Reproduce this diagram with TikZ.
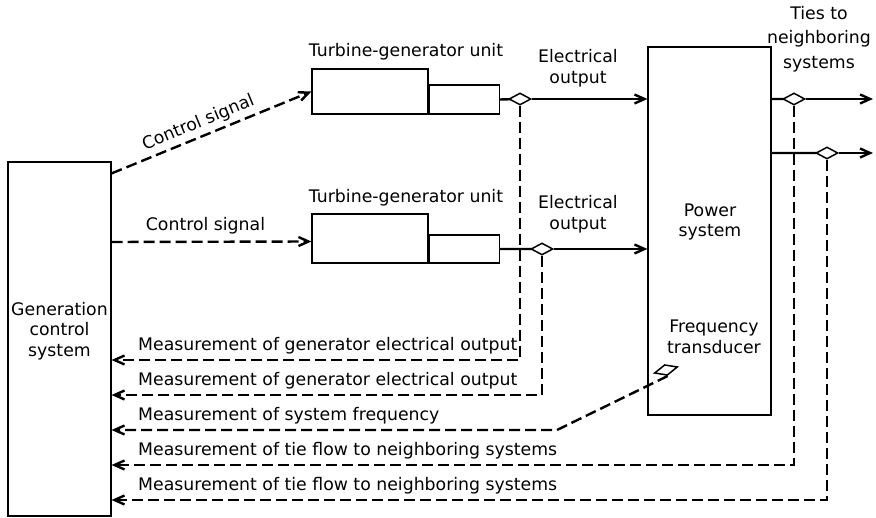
\documentclass[tikz,border=0pt]{standalone}
\usepackage{fontspec}
\setmainfont{DejaVu Sans}
\usetikzlibrary{arrows.meta,calc,positioning,shapes.geometric}

\begin{document}
\begin{tikzpicture}[x=1pt,y=-1pt,
  box/.style={draw,line width=1.2pt,inner sep=0pt},
  tap/.style={draw,diamond,line width=1.5pt,fill=white,inner sep=0pt,minimum width=22pt,minimum height=12pt},
  sig/.style={line width=2.4pt,dash pattern=on 11pt off 5pt,-{Straight Barb[length=10pt,width=9pt]}},
  pwr/.style={line width=2.4pt,-{Straight Barb[length=10pt,width=9pt]}},
  lbl/.style={font=\fontsize{17.3}{20.5}\selectfont,align=center,inner sep=0pt}]
  \useasboundingbox (0,0) rectangle (876,518);
  \node[box,minimum width=103pt,minimum height=354pt] (gcs) at (59.5,339) {};
  \node[lbl] (gcslbl) at (59.5,331) {Generation\\control\\system};
  \node[box,minimum width=116pt,minimum height=45pt] (tg1) at (370,91.5) {};
  \node[box,minimum width=70pt,minimum height=29pt,anchor=south west] (gen1) at (tg1.south east) {};
  \node[box,minimum width=116pt,minimum height=49pt] (tg2) at (370,238.5) {};
  \node[box,minimum width=70pt,minimum height=28pt,anchor=south west] (gen2) at (tg2.south east) {};
  \node[lbl] (tg1lbl) at (406,52) {Turbine-generator unit};
  \node[lbl] (tg2lbl) at (406,198) {Turbine-generator unit};
  \node[box,minimum width=123pt,minimum height=368pt] (ps) at (709.5,231) {};
  \node[lbl] (pslbl) at (710,222) {Power\\system};
  \node[lbl] (ftlbl) at (714,337) {Frequency\\transducer};
  \node[lbl] (eo1) at (578,68) {Electrical\\output};
  \node[lbl] (eo2) at (578,214) {Electrical\\output};
  \node[lbl,font=\fontsize{17.3}{24.5}\selectfont] (ties) at (819,39) {Ties to\\neighboring\\systems};
  \coordinate (tie1) at (873,99);
  \coordinate (tie2) at (873,153);
  \coordinate (fbend) at (557,430);
  \draw[line width=2.4pt] (gen1.east) -- (520,99) (gen2.east) -- (542,249)
    (ps.east |- tie1) -- (794,99) (ps.east |- tie2) -- (827,153);
  \node[tap] (d1) at (520,99) {};
  \node[tap] (d2) at (542,249) {};
  \node[tap] (d3) at (794,99) {};
  \node[tap] (d4) at (827,153) {};
  \node[tap,rotate=15,minimum width=24pt,minimum height=11pt] (ft) at (666,370) {};
  \draw[pwr] (d1.east) -- (ps.west |- d1.east);
  \draw[pwr] (d2.east) -- (ps.west |- d2.east);
  \draw[pwr] (d3.east) -- (tie1);
  \draw[pwr] (d4.east) -- (tie2);
  \draw[sig] ($(gcs.north east)+(0,12)$) -- node[lbl,sloped,above=4pt,pos=0.46] {Control signal} (tg1.west);
  \draw[sig] ($(gcs.east)+(0,-97)$) -- node[lbl,above=6pt,pos=0.47] {Control signal} ($(tg2.west)+(0,3)$);
  \draw[sig] (d1.south) |- ($(gcs.east)+(0,21)$);
  \draw[sig] (d2.south) |- ($(gcs.east)+(0,56)$);
  \draw[sig] (ft.south) -- (fbend) -- ($(gcs.east)+(0,91)$);
  \draw[sig] (d3.south) |- ($(gcs.east)+(0,126)$);
  \draw[sig] (d4.south) |- ($(gcs.east)+(0,161)$);
  \foreach \t [count=\i] in {Measurement of generator electrical output,
      Measurement of generator electrical output,Measurement of system frequency,
      Measurement of tie flow to neighboring systems,Measurement of tie flow to neighboring systems}
    \node[lbl,anchor=base west] (meas\i) at (138,{351+35*(\i-1)}) {\t};
\end{tikzpicture}
\end{document}
